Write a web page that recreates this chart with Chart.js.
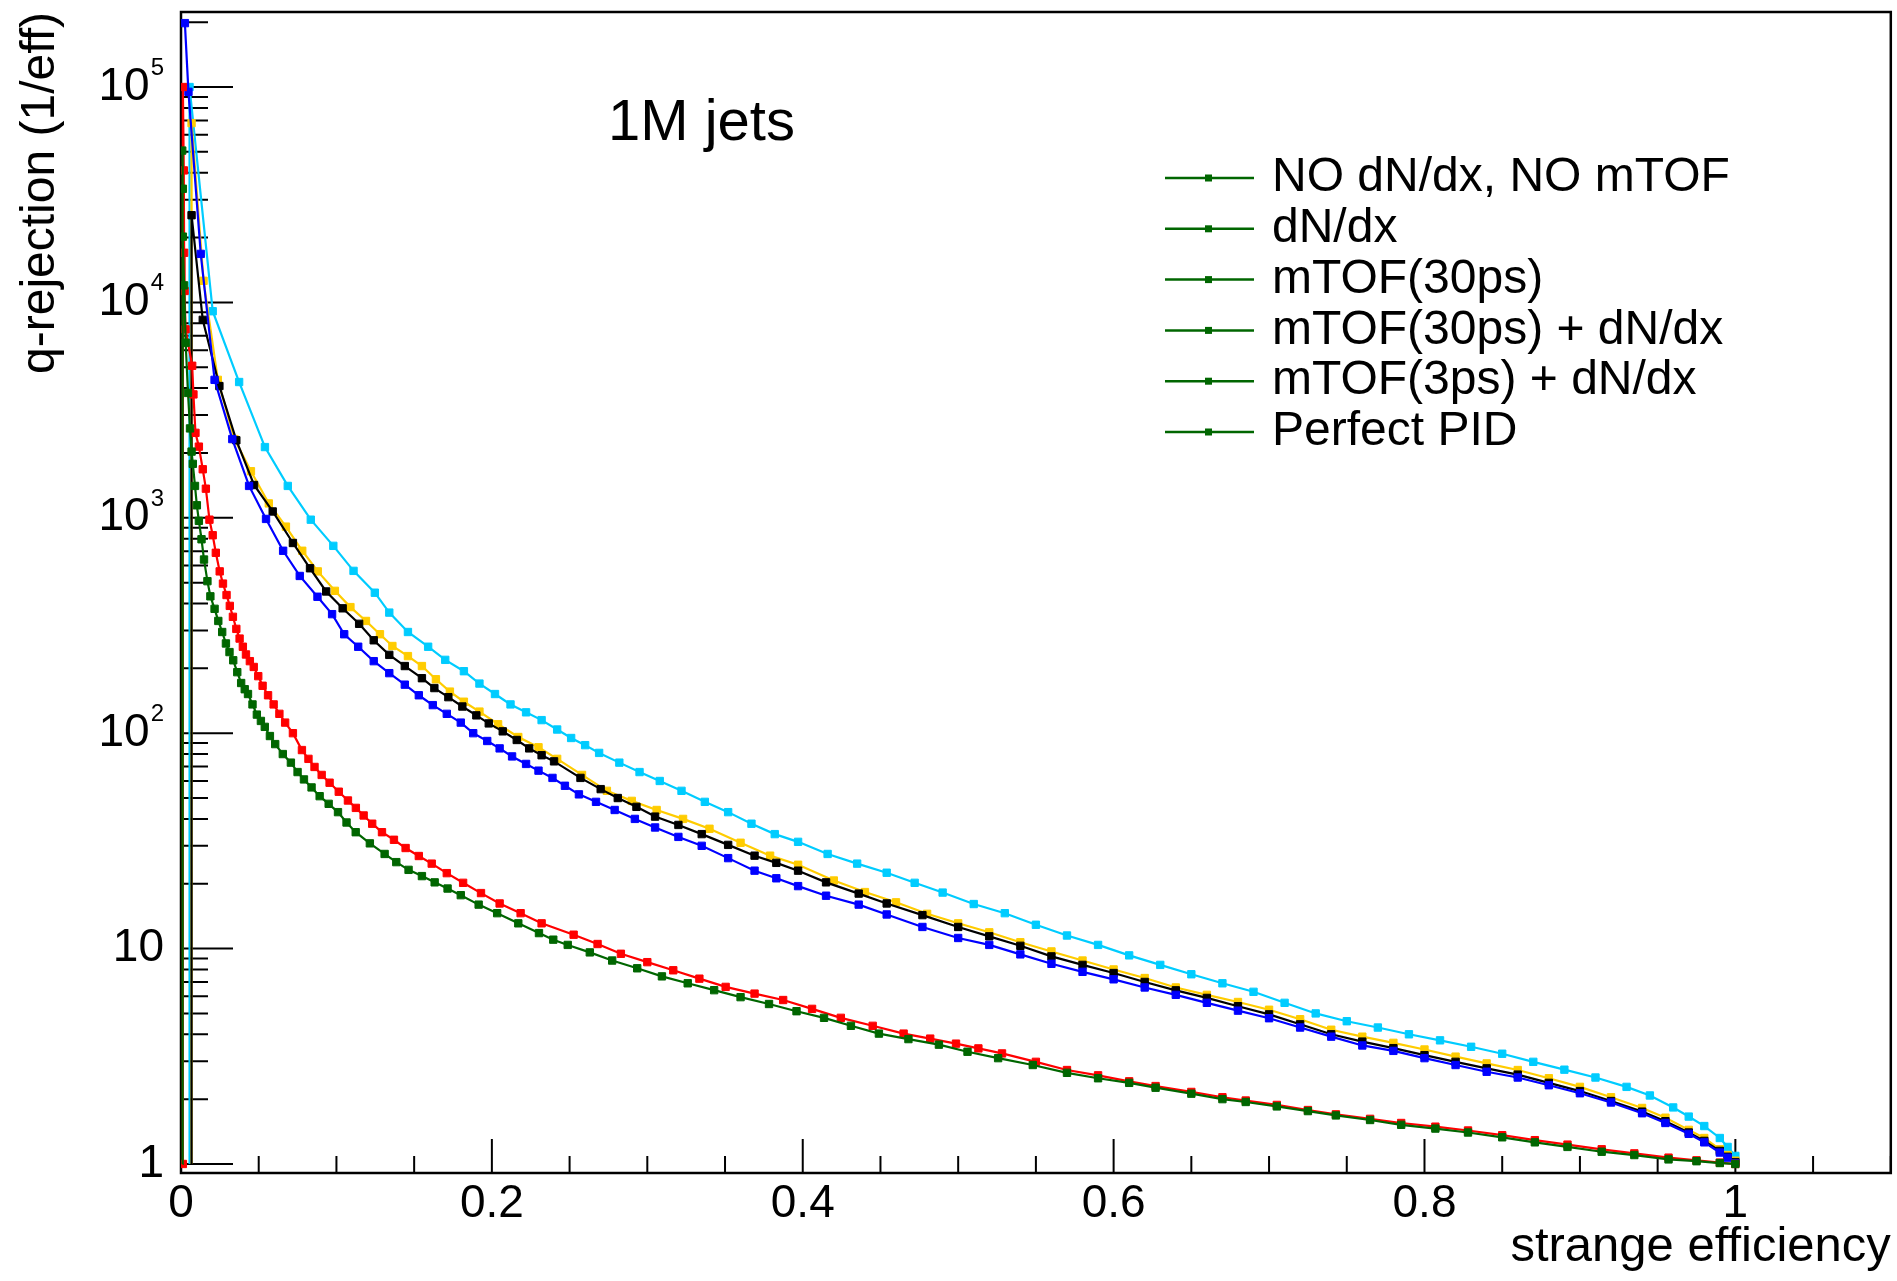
<!DOCTYPE html>
<html>
<head>
<meta charset="utf-8">
<script src="https://cdn.jsdelivr.net/npm/chart.js@4.4.1/dist/chart.umd.min.js"></script>
<style>
  body { margin: 0; background: #fff; }
  #wrap { width: 1897px; height: 1281px; }
</style>
</head>
<body>
<div id="wrap"><canvas id="rocChart"></canvas></div>
<script>
// [strange efficiency, q-rejection]
const noPid = [[0.0010,1],[0.0008,50700],[0.0012,33700],[0.0012,20200],[0.0020,12000],[0.0030,6500],[0.0045,3800],[0.0058,2600],[0.0068,2030],[0.0076,1780],[0.0090,1406],[0.0102,1143],[0.0115,968],[0.0132,795],[0.0148,640],[0.0170,508],[0.0189,432],[0.0216,378],[0.0240,332],[0.0265,295],[0.0289,261],[0.0312,238],[0.0336,218],[0.0362,192],[0.0387,171],[0.0410,160],[0.0431,152],[0.0460,136],[0.0488,122],[0.0514,114],[0.0539,107],[0.0572,97],[0.0606,89],[0.0655,80],[0.0707,73],[0.0750,66],[0.0791,61],[0.0840,56],[0.0892,51],[0.0950,47],[0.1010,43],[0.1065,38.5],[0.1124,34.7],[0.1215,30.8],[0.1310,27.5],[0.1385,25.2],[0.1464,23.2],[0.1550,21.7],[0.1632,20.3],[0.1715,19.0],[0.1800,17.7],[0.1915,16.0],[0.2034,14.6],[0.2170,13.1],[0.2303,11.8],[0.2395,11.0],[0.2488,10.4],[0.2630,9.6],[0.2774,8.8],[0.2935,8.1],[0.3094,7.43],[0.3260,6.9],[0.3430,6.41],[0.3600,5.95],[0.3783,5.53],[0.3960,5.12],[0.4137,4.77],[0.4310,4.38],[0.4490,4.03],[0.4680,3.8],[0.4876,3.58],[0.5060,3.32],[0.5257,3.1],[0.5480,2.88],[0.5700,2.65],[0.5900,2.5],[0.6100,2.38],[0.6270,2.26],[0.6500,2.12],[0.6700,2.0],[0.6850,1.94],[0.7050,1.85],[0.7250,1.76],[0.7430,1.68],[0.7650,1.6],[0.7850,1.52],[0.8070,1.46],[0.8280,1.40],[0.8500,1.33],[0.8710,1.26],[0.8920,1.2],[0.9140,1.14],[0.9350,1.1],[0.9570,1.05],[0.9750,1.03],[0.9900,1.01],[1.0,1.0]];

const dndx = [[0.0012,1],[0.0012,100000],[0.0018,41000],[0.0020,17000],[0.0023,11300],[0.0029,7500],[0.0072,5080],[0.0080,3740],[0.0093,2480],[0.0115,2140],[0.0140,1680],[0.0160,1365],[0.0183,980],[0.0204,830],[0.0224,688],[0.0249,564],[0.0270,495],[0.0293,438],[0.0314,390],[0.0334,347],[0.0356,305],[0.0377,275],[0.0398,252],[0.0418,232],[0.0443,216],[0.0468,203],[0.0497,184],[0.0525,166],[0.0560,150],[0.0596,136],[0.0633,123],[0.0670,112],[0.0720,100],[0.0778,83.5],[0.0820,76],[0.0859,69.7],[0.0905,64],[0.0956,58.9],[0.1015,53.5],[0.1074,48.7],[0.1125,45],[0.1175,41.5],[0.1230,38],[0.1293,34.7],[0.1370,32],[0.1445,29.3],[0.1530,26.9],[0.1613,24.8],[0.1710,22.4],[0.1815,20.2],[0.1930,18.1],[0.2050,16.2],[0.2185,14.6],[0.2320,13.1],[0.2526,11.6],[0.2680,10.5],[0.2830,9.46],[0.3000,8.65],[0.3167,7.93],[0.3335,7.25],[0.3504,6.64],[0.3690,6.18],[0.3874,5.77],[0.4060,5.25],[0.4245,4.77],[0.4450,4.38],[0.4649,4.03],[0.4820,3.82],[0.4986,3.62],[0.5130,3.44],[0.5282,3.26],[0.5500,2.98],[0.5700,2.73],[0.5900,2.58],[0.6100,2.42],[0.6270,2.3],[0.6500,2.16],[0.6700,2.04],[0.6850,1.97],[0.7050,1.88],[0.7250,1.78],[0.7430,1.7],[0.7650,1.62],[0.7850,1.55],[0.8070,1.49],[0.8280,1.43],[0.8500,1.36],[0.8710,1.29],[0.8920,1.23],[0.9140,1.17],[0.9350,1.12],[0.9570,1.07],[0.9750,1.04],[0.9900,1.015],[1.0,1.0]];

const tof30 = [[0.0025,198000],[0.0048,95000],[0.0127,16800],[0.0216,4370],[0.0330,2320],[0.0438,1406],[0.0547,988],[0.0657,703],[0.0764,537],[0.0878,430],[0.0972,357],[0.1050,288],[0.1140,252],[0.1240,216],[0.1340,190],[0.1440,168],[0.1530,150],[0.1620,135],[0.1710,123],[0.1800,112],[0.1880,100],[0.1970,92],[0.2050,85],[0.2130,78],[0.2220,72],[0.2300,67],[0.2390,62],[0.2470,57],[0.2560,52],[0.2670,48],[0.2790,44],[0.2920,40],[0.3050,36.5],[0.3200,33],[0.3350,30],[0.3520,26.3],[0.3690,23],[0.3830,21.2],[0.3970,19.5],[0.4150,17.6],[0.4360,16],[0.4540,14.4],[0.4770,12.6],[0.5000,11.2],[0.5200,10.4],[0.5400,9.4],[0.5600,8.5],[0.5800,7.8],[0.6000,7.2],[0.6200,6.6],[0.6400,6.1],[0.6600,5.6],[0.6800,5.15],[0.7000,4.75],[0.7200,4.3],[0.7400,3.9],[0.7600,3.55],[0.7800,3.35],[0.8000,3.1],[0.8200,2.88],[0.8400,2.68],[0.8600,2.52],[0.8800,2.32],[0.9000,2.13],[0.9200,1.93],[0.9400,1.72],[0.9550,1.55],[0.9700,1.38],[0.9800,1.26],[0.9900,1.13],[0.9950,1.07],[1.0,1.01]];

const tof30Dndx = [[0.0066,1],[0.0068,25400],[0.0140,8300],[0.0247,4090],[0.0356,2290],[0.0470,1420],[0.0590,1070],[0.0720,764],[0.0830,583],[0.0934,455],[0.1040,380],[0.1146,322],[0.1240,270],[0.1340,231],[0.1440,205],[0.1550,180],[0.1630,162],[0.1720,147],[0.1810,133],[0.1900,121],[0.1980,111],[0.2070,102],[0.2160,93],[0.2240,85],[0.2320,79],[0.2400,74],[0.2570,62],[0.2700,55],[0.2810,50],[0.2930,45.5],[0.3050,41],[0.3200,37.5],[0.3350,34],[0.3520,30.3],[0.3690,27],[0.3830,25],[0.3970,23],[0.4150,20.3],[0.4360,18],[0.4540,16.2],[0.4770,14.3],[0.5000,12.6],[0.5200,11.4],[0.5400,10.3],[0.5600,9.2],[0.5800,8.4],[0.6000,7.7],[0.6200,7.0],[0.6400,6.4],[0.6600,5.9],[0.6800,5.4],[0.7000,4.95],[0.7200,4.45],[0.7400,4.0],[0.7600,3.7],[0.7800,3.45],[0.8000,3.2],[0.8200,2.98],[0.8400,2.78],[0.8600,2.6],[0.8800,2.38],[0.9000,2.18],[0.9200,1.96],[0.9400,1.75],[0.9550,1.58],[0.9700,1.4],[0.9800,1.28],[0.9900,1.15],[0.9950,1.08],[1.0,1.02]];

const tof3Dndx = [[0.0068,1],[0.0068,68000],[0.0145,12600],[0.0237,4370],[0.0344,2320],[0.0450,1645],[0.0565,1166],[0.0675,910],[0.0780,703],[0.0880,564],[0.0990,458],[0.1090,385],[0.1190,332],[0.1280,288],[0.1360,254],[0.1460,228],[0.1550,205],[0.1640,178],[0.1730,156],[0.1820,140],[0.1920,126],[0.2040,110],[0.2170,96],[0.2300,86],[0.2420,76],[0.2580,64],[0.2740,54],[0.2900,48.5],[0.3060,44],[0.3230,40],[0.3400,36],[0.3600,31],[0.3790,27],[0.3970,24.5],[0.4200,20.7],[0.4400,18.3],[0.4600,16.4],[0.4800,14.5],[0.5000,13.1],[0.5200,11.9],[0.5400,10.7],[0.5600,9.7],[0.5800,8.8],[0.6000,8.0],[0.6200,7.3],[0.6400,6.6],[0.6600,6.1],[0.6800,5.65],[0.7000,5.2],[0.7200,4.7],[0.7400,4.2],[0.7600,3.9],[0.7800,3.65],[0.8000,3.4],[0.8200,3.15],[0.8400,2.93],[0.8600,2.73],[0.8800,2.5],[0.9000,2.28],[0.9200,2.04],[0.9400,1.82],[0.9550,1.64],[0.9700,1.44],[0.9800,1.32],[0.9900,1.17],[0.9950,1.1],[1.0,1.035]];

const perfectPid = [[0.0055,1],[0.0055,100000],[0.0204,9100],[0.0374,4270],[0.0540,2130],[0.0687,1406],[0.0835,980],[0.0980,741],[0.1110,567],[0.1247,449],[0.1340,363],[0.1460,295],[0.1590,252],[0.1700,219],[0.1820,194],[0.1920,170],[0.2020,152],[0.2120,136],[0.2220,125],[0.2320,115],[0.2420,104],[0.2510,95],[0.2600,88],[0.2690,81],[0.2820,73],[0.2950,66],[0.3080,60],[0.3220,54],[0.3370,48],[0.3520,43],[0.3670,38],[0.3820,34],[0.3970,31.3],[0.4160,27.5],[0.4350,24.8],[0.4540,22.5],[0.4720,20.2],[0.4900,18.2],[0.5100,16.1],[0.5300,14.6],[0.5500,12.9],[0.5700,11.5],[0.5900,10.4],[0.6100,9.3],[0.6300,8.4],[0.6500,7.6],[0.6700,6.9],[0.6900,6.3],[0.7100,5.6],[0.7300,5.0],[0.7500,4.6],[0.7700,4.3],[0.7900,4.0],[0.8100,3.75],[0.8300,3.5],[0.8500,3.25],[0.8700,2.98],[0.8900,2.74],[0.9100,2.52],[0.9300,2.28],[0.9450,2.08],[0.9600,1.83],[0.9700,1.66],[0.9800,1.5],[0.9900,1.32],[0.9950,1.2],[1.0,1.09]];

const seriesNames = ['NO dN/dx, NO mTOF', 'dN/dx', 'mTOF(30ps)', 'mTOF(30ps) + dN/dx', 'mTOF(3ps) + dN/dx', 'Perfect PID'];
const seriesColors = ['#006600', '#ff0000', '#0000ff', '#000000', '#ffcc00', '#00ccff'];
const seriesData = [noPid, dndx, tof30, tof30Dndx, tof3Dndx, perfectPid];

const xTickValues = [0, 0.2, 0.4, 0.6, 0.8, 1];
const xTickLabels = ['0', '0.2', '0.4', '0.6', '0.8', '1'];
const yTickValues = [1, 10, 100, 1000, 10000, 100000];
const yTickBase = ['1', '10', '10', '10', '10', '10'];
const yTickExp = ['', '', '2', '3', '4', '5'];
const legendColor = '#006600';   // ROOT drew every legend entry in green

const FONT = '"Liberation Sans", Arial, Helvetica, sans-serif';

// ROOT-like frame: inward ticks, no grid, 10^n labels with raised exponent
const rootFrame = {
  id: 'rootFrame',
  beforeDatasetsDraw(chart) {
    const { ctx, chartArea: a, scales: { x, y } } = chart;
    ctx.save();
    ctx.strokeStyle = '#000';
    ctx.lineWidth = 2;
    ctx.beginPath();
    for (let i = 0; i <= 22; i++) {
      const px = x.getPixelForValue(i * 0.05);
      const len = i % 4 === 0 ? 34 : 17;
      ctx.moveTo(px, a.bottom);
      ctx.lineTo(px, a.bottom - len);
    }
    for (let d = 0; d <= 5; d++) {
      for (let m = 1; m <= 9; m++) {
        const v = m * Math.pow(10, d);
        if (v < y.min || v > y.max) continue;
        const py = y.getPixelForValue(v);
        ctx.moveTo(a.left, py);
        ctx.lineTo(a.left + (m === 1 ? 52 : 27), py);
      }
    }
    ctx.stroke();
    ctx.lineWidth = 2.5;
    ctx.strokeRect(a.left, a.top, a.right - a.left, a.bottom - a.top);

    ctx.fillStyle = '#000';
    ctx.textAlign = 'right';
    const labelRight = a.left - 17;
    yTickValues.forEach((v, i) => {
      const py = y.getPixelForValue(v);
      let right = labelRight;
      if (yTickExp[i]) {
        ctx.font = '24px ' + FONT;
        ctx.textBaseline = 'alphabetic';
        ctx.fillText(yTickExp[i], right, py - 12);
        right -= ctx.measureText(yTickExp[i]).width + 1;
      }
      ctx.font = '46px ' + FONT;
      ctx.textBaseline = 'middle';
      ctx.fillText(yTickBase[i], right, py);
    });
    ctx.restore();
  },
  afterDraw(chart) {
    const ctx = chart.ctx;
    ctx.save();
    ctx.fillStyle = '#000';
    ctx.font = '58px ' + FONT;
    ctx.textBaseline = 'alphabetic';
    ctx.fillText('1M jets', 608, 140);

    ctx.font = '48px ' + FONT;
    ctx.textBaseline = 'middle';
    chart.data.datasets.forEach((ds, i) => {
      const cy = 178 + i * 50.8;
      ctx.strokeStyle = legendColor;
      ctx.lineWidth = 2.5;
      ctx.beginPath();
      ctx.moveTo(1165, cy);
      ctx.lineTo(1254, cy);
      ctx.stroke();
      ctx.fillStyle = legendColor;
      ctx.fillRect(1205, cy - 3.5, 7, 7);
      ctx.fillStyle = '#000';
      ctx.fillText(ds.label, 1272, cy);
    });
    ctx.restore();
  }
};

// keep the frame where ROOT put it: no extra room for edge labels
function noEdgePadding(s) {
  s.paddingTop = 0;
  s.paddingBottom = 0;
  s.paddingLeft = 0;
  s.paddingRight = 0;
}

new Chart(document.getElementById('rocChart'), {
  type: 'scatter',
  data: {
    datasets: seriesData.map((pts, i) => ({
      label: seriesNames[i],
      data: pts.map(p => ({ x: p[0], y: p[1] })),
      showLine: true,
      borderColor: seriesColors[i],
      backgroundColor: seriesColors[i],
      borderWidth: 2.2,
      pointStyle: 'rect',
      // only the dN/dx curve shows its marker sitting on y = 1
      pointRadius: c => (c.dataIndex === 0 && pts[0][1] === 1 && i !== 1) ? 0 : 5.2,
      pointBorderWidth: 1,
      pointBorderColor: seriesColors[i],
      tension: 0
    }))
  },
  options: {
    responsive: true,
    maintainAspectRatio: false,
    animation: false,
    layout: { padding: { top: 12, right: 6, left: 0, bottom: 0 } },
    plugins: { legend: { display: false }, tooltip: { enabled: false } },
    scales: {
      x: {
        type: 'linear',
        min: 0,
        max: 1.1,
        grid: { display: false, drawTicks: false },
        border: { display: false },
        afterBuildTicks: s => { s.ticks = xTickValues.map(v => ({ value: v })); },
        afterFit: s => { s.height = 108; noEdgePadding(s); },
        ticks: {
          autoSkip: false,
          maxRotation: 0,
          padding: 4,
          color: '#000',
          font: { family: FONT, size: 46 },
          callback: v => xTickLabels[xTickValues.indexOf(v)]
        },
        title: {
          display: true,
          text: 'strange efficiency',
          align: 'end',
          color: '#000',
          font: { family: FONT, size: 49, lineHeight: 1.2 },
          padding: { top: 0, bottom: 4 }
        }
      },
      y: {
        type: 'logarithmic',
        min: 0.908,
        max: 223000,
        grid: { display: false, drawTicks: false },
        border: { display: false },
        afterBuildTicks: s => { s.ticks = yTickValues.map(v => ({ value: v })); },
        afterFit: s => { s.width = 181; noEdgePadding(s); },
        ticks: { display: false },
        title: {
          display: true,
          text: 'q-rejection (1/eff)',
          align: 'end',
          color: '#000',
          font: { family: FONT, size: 48, lineHeight: 1.2 },
          padding: { top: 12, bottom: 0 }
        }
      }
    }
  },
  plugins: [rootFrame]
});
</script>
</body>
</html>
